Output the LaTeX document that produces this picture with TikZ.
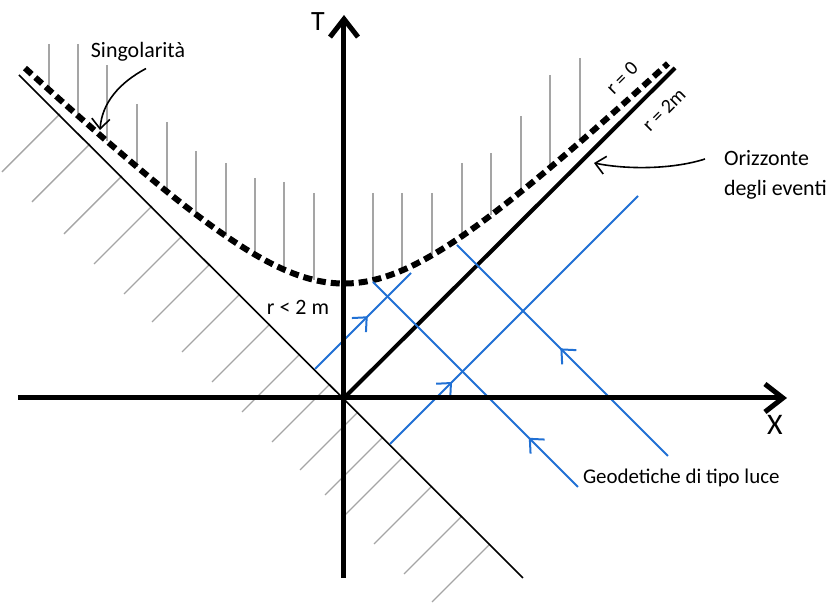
\documentclass[tikz,border=0pt]{standalone}
\usepackage{fontspec}
\setmainfont{Carlito}
\usetikzlibrary{arrows.meta, decorations.markings, calc}
\definecolor{geoblue}{RGB}{32,112,212}
\definecolor{hatchgray}{RGB}{165,165,165}

\begin{document}
\begin{tikzpicture}[x=0.5bp, y=0.5bp, font=\fontsize{11}{15}\selectfont,
    axis/.style={line width=2.5bp, -{Straight Barb[length=9bp, width=14bp]}},
    hatch/.style={hatchgray, line width=0.7bp},
    geo/.style={geoblue, line width=1bp, postaction={decorate}},
    flowat/.style={decoration={markings, mark=at position #1 with {\arrow{Straight Barb[length=5.5bp, width=10bp]}}}},
    note/.style={line width=0.8bp, -{Straight Barb[length=5bp, width=9bp]}}]
    \useasboundingbox (-344,-207) rectangle (483,398);
    % 阴影线：奇点上方（竖线）与 r < 2m 区域下方（斜线）
    \foreach \hx/\ht in {-295/354, -266/354, -237/333, -207/294, -177/276, -148/247, -118/235, -89/220, -60/216, -30/205,
        29/205, 58/205, 88/205, 118/235, 147/245, 177/282, 206/323, 236/340}
        \draw[hatch] (\hx,\ht) -- (\hx,{0.97*veclen(\hx,118)});
    \foreach \hx in {-284,-254,-222,-192,-162,-134,-104,-74,-44,-14,14,39,59,88,118,146}
        \draw[hatch] ({\hx},{-(\hx)}) -- ++(-58,-58);
    % 坐标与视界
    \coordinate (O) at (0,0);
    \coordinate (horend) at (331,330);
    \coordinate (bndtop) at (-325,323);
    \coordinate (bndbot) at (179,-180);
    \draw[line width=0.8bp] (bndtop) -- (bndbot);
    \draw[line width=2bp] (O) -- (horend);
    % 奇点 r = 0
    \draw[line width=3bp, dash pattern=on 4.5bp off 2.5bp] plot[domain=-319:324, samples=80, smooth] (\x,{0.97*veclen(\x,118)});
    % 类光测地线
    \coordinate (a1) at (-29,29);  \coordinate (a2) at (67,125);
    \coordinate (b1) at (29,116);  \coordinate (b2) at (234,-89);
    \coordinate (c1) at (46,-46);  \coordinate (c2) at (294,202);
    \coordinate (d1) at (113,153); \coordinate (d2) at (324,-58);
    \draw[geo, flowat=0.55] (a1) -- (a2);
    \draw[geo, flowat=0.24] (b2) -- (b1);
    \draw[geo, flowat=0.25] (c1) -- (c2);
    \draw[geo, flowat=0.51] (d2) -- (d1);
    % 坐标轴
    \coordinate (xbeg) at (-326,0);  \coordinate (xend) at (443,0);
    \coordinate (tbeg) at (0,-180);  \coordinate (tend) at (0,383);
    \draw[axis] (xbeg) -- (xend);
    \draw[axis] (tbeg) -- (tend);
    \node[font=\fontsize{14}{16}\selectfont] (tlab) at (-26,376) {T};
    \node[font=\fontsize{15}{17}\selectfont] (xlab) at (431,-27) {X};
    % 标注
    \node (sing) at (-206,346) {Singolarità};
    \node (rless) at (-46,91) {r < 2 m};
    \node[rotate=45, inner sep=1pt, font=\fontsize{10}{12}\selectfont] (rzero) at (278,320) {r = 0};
    \node[rotate=45, inner sep=1pt, font=\fontsize{10}{12}\selectfont] (rtwo) at (320,288) {r = 2m};
    \node[align=left, anchor=west] (orizz) at (373,223) {Orizzonte\\degli eventi};
    \node[anchor=west, font=\fontsize{10.5}{13}\selectfont] (geod) at (232,-80) {Geodetiche di tipo luce};
    \coordinate (singtip) at (-244,268);
    \coordinate (hortip) at (250,235);
    \draw[note] ([xshift=4bp]sing.south) .. controls (-225,315) and (-242,295) .. (singtip);
    \draw[note] ($(orizz.west)+(-12,16)$) .. controls (330,229) and (285,228) .. (hortip);
\end{tikzpicture}
\end{document}
